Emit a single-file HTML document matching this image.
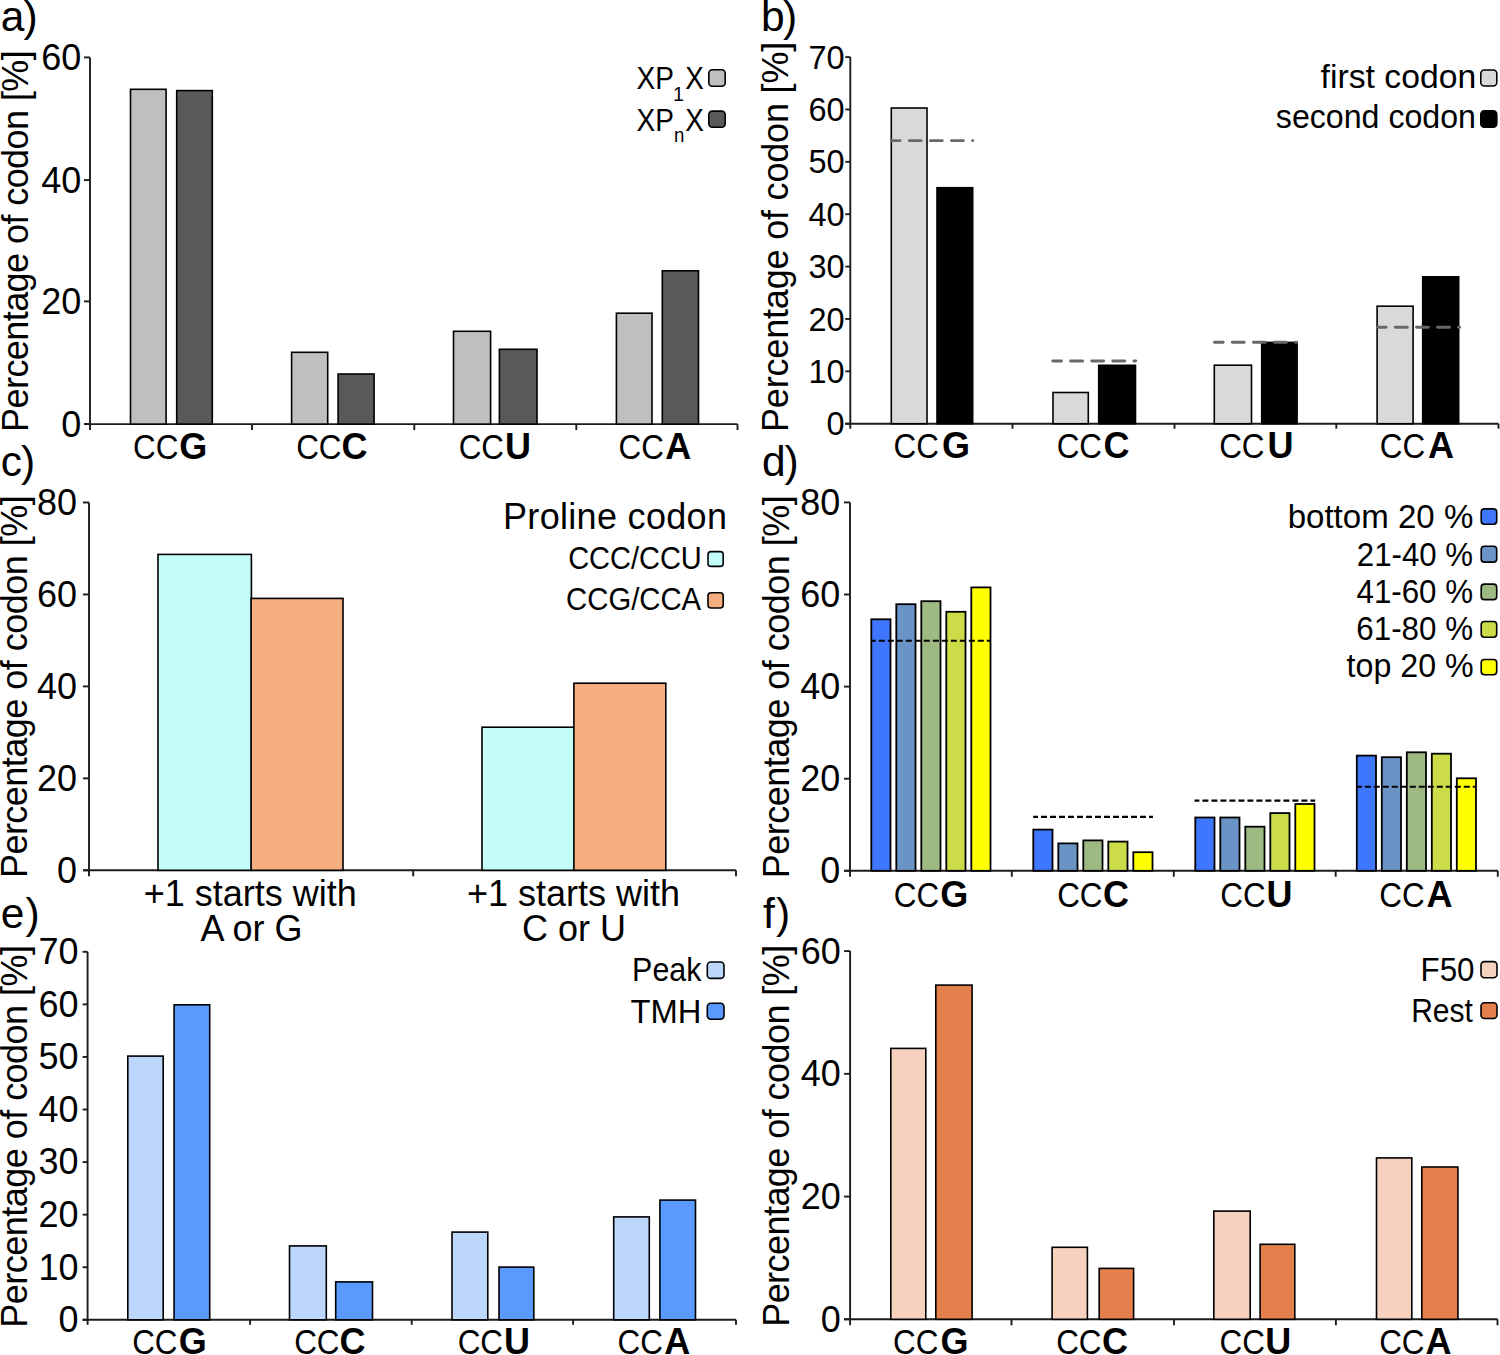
<!DOCTYPE html>
<html><head><meta charset="utf-8"><style>
html,body{margin:0;padding:0;background:#fff;width:1500px;height:1355px;overflow:hidden}
svg{display:block}
text{font-family:"Liberation Sans",sans-serif;fill:#000}
</style></head><body>
<svg width="1500" height="1355" viewBox="0 0 1500 1355">
<rect width="1500" height="1355" fill="#fff"/>
<line x1="90.00" y1="57.40" x2="90.00" y2="430.10" stroke="#1c1c1c" stroke-width="1.9" stroke-linecap="butt"/>
<line x1="84.00" y1="424.10" x2="737.50" y2="424.10" stroke="#1c1c1c" stroke-width="1.9" stroke-linecap="butt"/>
<line x1="84.00" y1="424.10" x2="90.00" y2="424.10" stroke="#1c1c1c" stroke-width="1.9" stroke-linecap="butt"/>
<line x1="84.00" y1="301.40" x2="90.00" y2="301.40" stroke="#1c1c1c" stroke-width="1.9" stroke-linecap="butt"/>
<line x1="84.00" y1="180.10" x2="90.00" y2="180.10" stroke="#1c1c1c" stroke-width="1.9" stroke-linecap="butt"/>
<line x1="84.00" y1="57.40" x2="90.00" y2="57.40" stroke="#1c1c1c" stroke-width="1.9" stroke-linecap="butt"/>
<line x1="252.00" y1="424.10" x2="252.00" y2="430.10" stroke="#1c1c1c" stroke-width="1.9" stroke-linecap="butt"/>
<line x1="414.30" y1="424.10" x2="414.30" y2="430.10" stroke="#1c1c1c" stroke-width="1.9" stroke-linecap="butt"/>
<line x1="576.30" y1="424.10" x2="576.30" y2="430.10" stroke="#1c1c1c" stroke-width="1.9" stroke-linecap="butt"/>
<line x1="737.50" y1="424.10" x2="737.50" y2="430.10" stroke="#1c1c1c" stroke-width="1.9" stroke-linecap="butt"/>
<rect x="130.50" y="89.30" width="35.60" height="334.80" fill="#bfbfbf" stroke="#000" stroke-width="1.6"/>
<rect x="176.70" y="90.60" width="35.60" height="333.50" fill="#595959" stroke="#000" stroke-width="1.6"/>
<rect x="291.60" y="352.30" width="36.10" height="71.80" fill="#bfbfbf" stroke="#000" stroke-width="1.6"/>
<rect x="338.10" y="374.00" width="36.00" height="50.10" fill="#595959" stroke="#000" stroke-width="1.6"/>
<rect x="453.50" y="331.30" width="37.10" height="92.80" fill="#bfbfbf" stroke="#000" stroke-width="1.6"/>
<rect x="499.40" y="349.30" width="37.60" height="74.80" fill="#595959" stroke="#000" stroke-width="1.6"/>
<rect x="616.40" y="313.20" width="35.60" height="110.90" fill="#bfbfbf" stroke="#000" stroke-width="1.6"/>
<rect x="662.30" y="270.80" width="36.20" height="153.30" fill="#595959" stroke="#000" stroke-width="1.6"/>
<rect x="708.80" y="69.80" width="16.40" height="16.40" rx="3.5" fill="#bfbfbf" stroke="#000" stroke-width="1.6"/>
<rect x="708.80" y="111.10" width="16.40" height="16.10" rx="3.5" fill="#595959" stroke="#000" stroke-width="1.6"/>
<line x1="850.30" y1="57.10" x2="850.30" y2="428.70" stroke="#1c1c1c" stroke-width="1.9" stroke-linecap="butt"/>
<line x1="845.30" y1="423.70" x2="1498.50" y2="423.70" stroke="#1c1c1c" stroke-width="1.9" stroke-linecap="butt"/>
<line x1="845.30" y1="423.70" x2="850.30" y2="423.70" stroke="#1c1c1c" stroke-width="1.9" stroke-linecap="butt"/>
<line x1="845.30" y1="371.33" x2="850.30" y2="371.33" stroke="#1c1c1c" stroke-width="1.9" stroke-linecap="butt"/>
<line x1="845.30" y1="318.96" x2="850.30" y2="318.96" stroke="#1c1c1c" stroke-width="1.9" stroke-linecap="butt"/>
<line x1="845.30" y1="266.59" x2="850.30" y2="266.59" stroke="#1c1c1c" stroke-width="1.9" stroke-linecap="butt"/>
<line x1="845.30" y1="214.21" x2="850.30" y2="214.21" stroke="#1c1c1c" stroke-width="1.9" stroke-linecap="butt"/>
<line x1="845.30" y1="161.84" x2="850.30" y2="161.84" stroke="#1c1c1c" stroke-width="1.9" stroke-linecap="butt"/>
<line x1="845.30" y1="109.47" x2="850.30" y2="109.47" stroke="#1c1c1c" stroke-width="1.9" stroke-linecap="butt"/>
<line x1="845.30" y1="57.10" x2="850.30" y2="57.10" stroke="#1c1c1c" stroke-width="1.9" stroke-linecap="butt"/>
<line x1="1012.50" y1="423.70" x2="1012.50" y2="428.70" stroke="#1c1c1c" stroke-width="1.9" stroke-linecap="butt"/>
<line x1="1174.50" y1="423.70" x2="1174.50" y2="428.70" stroke="#1c1c1c" stroke-width="1.9" stroke-linecap="butt"/>
<line x1="1336.30" y1="423.70" x2="1336.30" y2="428.70" stroke="#1c1c1c" stroke-width="1.9" stroke-linecap="butt"/>
<line x1="1498.50" y1="423.70" x2="1498.50" y2="428.70" stroke="#1c1c1c" stroke-width="1.9" stroke-linecap="butt"/>
<rect x="891.30" y="108.00" width="35.70" height="315.70" fill="#d9d9d9" stroke="#000" stroke-width="1.6"/>
<rect x="937.00" y="187.70" width="35.70" height="236.00" fill="#000000" stroke="#000" stroke-width="1.6"/>
<rect x="1053.00" y="392.50" width="35.30" height="31.20" fill="#d9d9d9" stroke="#000" stroke-width="1.6"/>
<rect x="1098.70" y="365.30" width="36.80" height="58.40" fill="#000000" stroke="#000" stroke-width="1.6"/>
<rect x="1214.30" y="365.20" width="37.20" height="58.50" fill="#d9d9d9" stroke="#000" stroke-width="1.6"/>
<rect x="1261.70" y="342.40" width="35.40" height="81.30" fill="#000000" stroke="#000" stroke-width="1.6"/>
<rect x="1377.10" y="306.20" width="36.00" height="117.50" fill="#d9d9d9" stroke="#000" stroke-width="1.6"/>
<rect x="1422.70" y="276.80" width="36.00" height="146.90" fill="#000000" stroke="#000" stroke-width="1.6"/>
<line x1="891.30" y1="140.6" x2="972.80" y2="140.6" stroke="#686868" stroke-width="2.85" stroke-linecap="round" stroke-dasharray="12 9.1" stroke-dashoffset="3.2"/>
<line x1="1052.70" y1="361" x2="1135.70" y2="361" stroke="#686868" stroke-width="2.85" stroke-linecap="round" stroke-dasharray="12 9.1" stroke-dashoffset="3.2"/>
<line x1="1214.40" y1="342.2" x2="1296.60" y2="342.2" stroke="#686868" stroke-width="2.85" stroke-linecap="round" stroke-dasharray="12 9.1" stroke-dashoffset="3.2"/>
<line x1="1377.40" y1="327.2" x2="1459.60" y2="327.2" stroke="#686868" stroke-width="2.85" stroke-linecap="round" stroke-dasharray="12 9.1" stroke-dashoffset="3.2"/>
<rect x="1480.80" y="70.00" width="16.00" height="16.00" rx="3.5" fill="#d9d9d9" stroke="#000" stroke-width="1.6"/>
<rect x="1480.80" y="110.80" width="16.00" height="16.40" rx="3.5" fill="#000000" stroke="#000" stroke-width="1.6"/>
<line x1="89.00" y1="502.50" x2="89.00" y2="876.30" stroke="#1c1c1c" stroke-width="1.9" stroke-linecap="butt"/>
<line x1="83.00" y1="870.30" x2="736.00" y2="870.30" stroke="#1c1c1c" stroke-width="1.9" stroke-linecap="butt"/>
<line x1="83.00" y1="870.30" x2="89.00" y2="870.30" stroke="#1c1c1c" stroke-width="1.9" stroke-linecap="butt"/>
<line x1="83.00" y1="778.35" x2="89.00" y2="778.35" stroke="#1c1c1c" stroke-width="1.9" stroke-linecap="butt"/>
<line x1="83.00" y1="686.40" x2="89.00" y2="686.40" stroke="#1c1c1c" stroke-width="1.9" stroke-linecap="butt"/>
<line x1="83.00" y1="594.45" x2="89.00" y2="594.45" stroke="#1c1c1c" stroke-width="1.9" stroke-linecap="butt"/>
<line x1="83.00" y1="502.50" x2="89.00" y2="502.50" stroke="#1c1c1c" stroke-width="1.9" stroke-linecap="butt"/>
<line x1="413.20" y1="870.30" x2="413.20" y2="876.30" stroke="#1c1c1c" stroke-width="1.9" stroke-linecap="butt"/>
<line x1="736.00" y1="870.30" x2="736.00" y2="876.30" stroke="#1c1c1c" stroke-width="1.9" stroke-linecap="butt"/>
<rect x="158.00" y="554.40" width="93.40" height="315.90" fill="#c4fcf8" stroke="#000" stroke-width="1.6"/>
<rect x="251.10" y="598.40" width="91.90" height="271.90" fill="#f4ae80" stroke="#000" stroke-width="1.6"/>
<rect x="482.00" y="727.20" width="92.60" height="143.10" fill="#c4fcf8" stroke="#000" stroke-width="1.6"/>
<rect x="573.90" y="683.20" width="91.90" height="187.10" fill="#f4ae80" stroke="#000" stroke-width="1.6"/>
<rect x="708.00" y="551.60" width="15.20" height="14.80" rx="3" fill="#c4fcf8" stroke="#000" stroke-width="1.6"/>
<rect x="708.00" y="592.80" width="15.20" height="15.20" rx="3" fill="#f4ae80" stroke="#000" stroke-width="1.6"/>
<line x1="850.00" y1="502.40" x2="850.00" y2="876.80" stroke="#1c1c1c" stroke-width="1.9" stroke-linecap="butt"/>
<line x1="844.00" y1="870.80" x2="1497.80" y2="870.80" stroke="#1c1c1c" stroke-width="1.9" stroke-linecap="butt"/>
<line x1="844.00" y1="870.80" x2="850.00" y2="870.80" stroke="#1c1c1c" stroke-width="1.9" stroke-linecap="butt"/>
<line x1="844.00" y1="778.70" x2="850.00" y2="778.70" stroke="#1c1c1c" stroke-width="1.9" stroke-linecap="butt"/>
<line x1="844.00" y1="686.60" x2="850.00" y2="686.60" stroke="#1c1c1c" stroke-width="1.9" stroke-linecap="butt"/>
<line x1="844.00" y1="594.50" x2="850.00" y2="594.50" stroke="#1c1c1c" stroke-width="1.9" stroke-linecap="butt"/>
<line x1="844.00" y1="502.40" x2="850.00" y2="502.40" stroke="#1c1c1c" stroke-width="1.9" stroke-linecap="butt"/>
<line x1="1011.80" y1="870.80" x2="1011.80" y2="876.80" stroke="#1c1c1c" stroke-width="1.9" stroke-linecap="butt"/>
<line x1="1173.80" y1="870.80" x2="1173.80" y2="876.80" stroke="#1c1c1c" stroke-width="1.9" stroke-linecap="butt"/>
<line x1="1335.70" y1="870.80" x2="1335.70" y2="876.80" stroke="#1c1c1c" stroke-width="1.9" stroke-linecap="butt"/>
<line x1="1497.80" y1="870.80" x2="1497.80" y2="876.80" stroke="#1c1c1c" stroke-width="1.9" stroke-linecap="butt"/>
<rect x="871.30" y="619.30" width="19.20" height="251.50" fill="#3f76fe" stroke="#000" stroke-width="1.8"/>
<rect x="896.30" y="604.20" width="19.20" height="266.60" fill="#6a94c6" stroke="#000" stroke-width="1.8"/>
<rect x="921.30" y="601.20" width="19.20" height="269.60" fill="#9cba82" stroke="#000" stroke-width="1.8"/>
<rect x="946.30" y="611.80" width="19.20" height="259.00" fill="#ccdb48" stroke="#000" stroke-width="1.8"/>
<rect x="971.30" y="587.40" width="19.20" height="283.40" fill="#ffff00" stroke="#000" stroke-width="1.8"/>
<rect x="1033.30" y="829.60" width="19.20" height="41.20" fill="#3f76fe" stroke="#000" stroke-width="1.8"/>
<rect x="1058.30" y="843.40" width="19.20" height="27.40" fill="#6a94c6" stroke="#000" stroke-width="1.8"/>
<rect x="1083.30" y="840.40" width="19.20" height="30.40" fill="#9cba82" stroke="#000" stroke-width="1.8"/>
<rect x="1108.30" y="841.60" width="19.20" height="29.20" fill="#ccdb48" stroke="#000" stroke-width="1.8"/>
<rect x="1133.30" y="852.20" width="19.20" height="18.60" fill="#ffff00" stroke="#000" stroke-width="1.8"/>
<rect x="1195.30" y="817.50" width="19.20" height="53.30" fill="#3f76fe" stroke="#000" stroke-width="1.8"/>
<rect x="1220.30" y="817.50" width="19.20" height="53.30" fill="#6a94c6" stroke="#000" stroke-width="1.8"/>
<rect x="1245.30" y="826.70" width="19.20" height="44.10" fill="#9cba82" stroke="#000" stroke-width="1.8"/>
<rect x="1270.30" y="813.10" width="19.20" height="57.70" fill="#ccdb48" stroke="#000" stroke-width="1.8"/>
<rect x="1295.30" y="804.00" width="19.20" height="66.80" fill="#ffff00" stroke="#000" stroke-width="1.8"/>
<rect x="1356.80" y="755.60" width="19.20" height="115.20" fill="#3f76fe" stroke="#000" stroke-width="1.8"/>
<rect x="1381.80" y="757.20" width="19.20" height="113.60" fill="#6a94c6" stroke="#000" stroke-width="1.8"/>
<rect x="1406.80" y="752.30" width="19.20" height="118.50" fill="#9cba82" stroke="#000" stroke-width="1.8"/>
<rect x="1431.80" y="753.70" width="19.20" height="117.10" fill="#ccdb48" stroke="#000" stroke-width="1.8"/>
<rect x="1456.80" y="778.30" width="19.20" height="92.50" fill="#ffff00" stroke="#000" stroke-width="1.8"/>
<line x1="871.00" y1="640.7" x2="991.00" y2="640.7" stroke="#000" stroke-width="2.1" stroke-dasharray="6 3" stroke-dashoffset="1.2"/>
<line x1="1033.20" y1="816.9" x2="1153.00" y2="816.9" stroke="#000" stroke-width="2.1" stroke-dasharray="6 3" stroke-dashoffset="1.2"/>
<line x1="1194.60" y1="800.6" x2="1315.20" y2="800.6" stroke="#000" stroke-width="2.1" stroke-dasharray="6 3" stroke-dashoffset="1.2"/>
<line x1="1357.00" y1="786.8" x2="1476.00" y2="786.8" stroke="#000" stroke-width="2.1" stroke-dasharray="6 3" stroke-dashoffset="1.2"/>
<rect x="1481.20" y="508.90" width="15.50" height="15.30" rx="3.2" fill="#3f76fe" stroke="#000" stroke-width="1.6"/>
<rect x="1481.20" y="546.30" width="15.50" height="15.80" rx="3.2" fill="#6a94c6" stroke="#000" stroke-width="1.6"/>
<rect x="1481.20" y="584.10" width="15.50" height="15.50" rx="3.2" fill="#9cba82" stroke="#000" stroke-width="1.6"/>
<rect x="1481.20" y="621.50" width="15.50" height="15.70" rx="3.2" fill="#ccdb48" stroke="#000" stroke-width="1.6"/>
<rect x="1481.20" y="659.50" width="15.50" height="15.30" rx="3.2" fill="#ffff00" stroke="#000" stroke-width="1.6"/>
<line x1="87.60" y1="951.80" x2="87.60" y2="1324.80" stroke="#1c1c1c" stroke-width="1.9" stroke-linecap="butt"/>
<line x1="82.60" y1="1319.80" x2="736.00" y2="1319.80" stroke="#1c1c1c" stroke-width="1.9" stroke-linecap="butt"/>
<line x1="82.60" y1="1319.80" x2="87.60" y2="1319.80" stroke="#1c1c1c" stroke-width="1.9" stroke-linecap="butt"/>
<line x1="82.60" y1="1267.23" x2="87.60" y2="1267.23" stroke="#1c1c1c" stroke-width="1.9" stroke-linecap="butt"/>
<line x1="82.60" y1="1214.66" x2="87.60" y2="1214.66" stroke="#1c1c1c" stroke-width="1.9" stroke-linecap="butt"/>
<line x1="82.60" y1="1162.09" x2="87.60" y2="1162.09" stroke="#1c1c1c" stroke-width="1.9" stroke-linecap="butt"/>
<line x1="82.60" y1="1109.51" x2="87.60" y2="1109.51" stroke="#1c1c1c" stroke-width="1.9" stroke-linecap="butt"/>
<line x1="82.60" y1="1056.94" x2="87.60" y2="1056.94" stroke="#1c1c1c" stroke-width="1.9" stroke-linecap="butt"/>
<line x1="82.60" y1="1004.37" x2="87.60" y2="1004.37" stroke="#1c1c1c" stroke-width="1.9" stroke-linecap="butt"/>
<line x1="82.60" y1="951.80" x2="87.60" y2="951.80" stroke="#1c1c1c" stroke-width="1.9" stroke-linecap="butt"/>
<line x1="250.10" y1="1319.80" x2="250.10" y2="1324.80" stroke="#1c1c1c" stroke-width="1.9" stroke-linecap="butt"/>
<line x1="411.70" y1="1319.80" x2="411.70" y2="1324.80" stroke="#1c1c1c" stroke-width="1.9" stroke-linecap="butt"/>
<line x1="573.10" y1="1319.80" x2="573.10" y2="1324.80" stroke="#1c1c1c" stroke-width="1.9" stroke-linecap="butt"/>
<line x1="736.00" y1="1319.80" x2="736.00" y2="1324.80" stroke="#1c1c1c" stroke-width="1.9" stroke-linecap="butt"/>
<rect x="127.80" y="1056.10" width="35.40" height="263.70" fill="#bcd6fc" stroke="#000" stroke-width="1.6"/>
<rect x="174.10" y="1004.80" width="35.60" height="315.00" fill="#5a99fd" stroke="#000" stroke-width="1.6"/>
<rect x="289.50" y="1245.90" width="36.80" height="73.90" fill="#bcd6fc" stroke="#000" stroke-width="1.6"/>
<rect x="335.70" y="1281.90" width="36.80" height="37.90" fill="#5a99fd" stroke="#000" stroke-width="1.6"/>
<rect x="452.00" y="1232.10" width="35.80" height="87.70" fill="#bcd6fc" stroke="#000" stroke-width="1.6"/>
<rect x="499.00" y="1267.10" width="34.80" height="52.70" fill="#5a99fd" stroke="#000" stroke-width="1.6"/>
<rect x="613.70" y="1216.90" width="35.60" height="102.90" fill="#bcd6fc" stroke="#000" stroke-width="1.6"/>
<rect x="659.90" y="1200.10" width="35.60" height="119.70" fill="#5a99fd" stroke="#000" stroke-width="1.6"/>
<rect x="707.30" y="962.00" width="16.70" height="16.40" rx="3.5" fill="#bcd6fc" stroke="#000" stroke-width="1.6"/>
<rect x="707.30" y="1003.30" width="16.70" height="15.90" rx="3.5" fill="#5a99fd" stroke="#000" stroke-width="1.6"/>
<line x1="850.10" y1="951.10" x2="850.10" y2="1325.30" stroke="#1c1c1c" stroke-width="1.9" stroke-linecap="butt"/>
<line x1="844.10" y1="1319.30" x2="1497.50" y2="1319.30" stroke="#1c1c1c" stroke-width="1.9" stroke-linecap="butt"/>
<line x1="844.10" y1="1319.30" x2="850.10" y2="1319.30" stroke="#1c1c1c" stroke-width="1.9" stroke-linecap="butt"/>
<line x1="844.10" y1="1196.57" x2="850.10" y2="1196.57" stroke="#1c1c1c" stroke-width="1.9" stroke-linecap="butt"/>
<line x1="844.10" y1="1073.83" x2="850.10" y2="1073.83" stroke="#1c1c1c" stroke-width="1.9" stroke-linecap="butt"/>
<line x1="844.10" y1="951.10" x2="850.10" y2="951.10" stroke="#1c1c1c" stroke-width="1.9" stroke-linecap="butt"/>
<line x1="1011.50" y1="1319.30" x2="1011.50" y2="1325.30" stroke="#1c1c1c" stroke-width="1.9" stroke-linecap="butt"/>
<line x1="1174.00" y1="1319.30" x2="1174.00" y2="1325.30" stroke="#1c1c1c" stroke-width="1.9" stroke-linecap="butt"/>
<line x1="1335.90" y1="1319.30" x2="1335.90" y2="1325.30" stroke="#1c1c1c" stroke-width="1.9" stroke-linecap="butt"/>
<line x1="1497.50" y1="1319.30" x2="1497.50" y2="1325.30" stroke="#1c1c1c" stroke-width="1.9" stroke-linecap="butt"/>
<rect x="890.80" y="1048.40" width="35.00" height="270.90" fill="#f6d2be" stroke="#000" stroke-width="1.6"/>
<rect x="935.80" y="985.10" width="36.30" height="334.20" fill="#e4804c" stroke="#000" stroke-width="1.6"/>
<rect x="1052.10" y="1247.30" width="35.30" height="72.00" fill="#f6d2be" stroke="#000" stroke-width="1.6"/>
<rect x="1099.20" y="1268.40" width="34.40" height="50.90" fill="#e4804c" stroke="#000" stroke-width="1.6"/>
<rect x="1213.80" y="1211.10" width="36.40" height="108.20" fill="#f6d2be" stroke="#000" stroke-width="1.6"/>
<rect x="1260.10" y="1244.30" width="34.70" height="75.00" fill="#e4804c" stroke="#000" stroke-width="1.6"/>
<rect x="1376.50" y="1157.90" width="35.30" height="161.40" fill="#f6d2be" stroke="#000" stroke-width="1.6"/>
<rect x="1421.80" y="1167.00" width="36.10" height="152.30" fill="#e4804c" stroke="#000" stroke-width="1.6"/>
<rect x="1481.00" y="961.60" width="16.00" height="16.20" rx="3.5" fill="#f6d2be" stroke="#000" stroke-width="1.6"/>
<rect x="1481.00" y="1002.80" width="16.00" height="15.70" rx="3.5" fill="#e4804c" stroke="#000" stroke-width="1.6"/>
<text x="61.30" y="436.90" font-size="36">0</text>
<text x="41.30" y="314.20" font-size="36">20</text>
<text x="41.30" y="192.90" font-size="36">40</text>
<text x="41.30" y="70.20" font-size="36">60</text>
<text transform="translate(132.97,458.50) scale(0.9130,1)" font-size="34.4">CC</text>
<text x="179.20" y="458.50" font-size="36" font-weight="700">G</text>
<text transform="translate(296.17,458.50) scale(0.9130,1)" font-size="34.4">CC</text>
<text x="341.50" y="458.50" font-size="36" font-weight="700">C</text>
<text transform="translate(458.67,458.50) scale(0.9130,1)" font-size="34.4">CC</text>
<text x="505.00" y="458.50" font-size="36" font-weight="700">U</text>
<text transform="translate(618.57,458.50) scale(0.9130,1)" font-size="34.4">CC</text>
<text x="665.20" y="458.50" font-size="36" font-weight="700">A</text>
<text transform="translate(27.90,431.90) rotate(-90)" font-size="36" letter-spacing="-0.573">Percentage of codon [%]</text>
<text x="0.80" y="31.40" font-size="42.5">a</text>
<text x="23.40" y="31.40" font-size="42.5">)</text>
<text transform="translate(636.62,89.20) scale(0.8750,1)" font-size="32">XP</text>
<text transform="translate(673.11,101.00) scale(0.9444,1)" font-size="21">1</text>
<text transform="translate(685.13,89.20) scale(0.8684,1)" font-size="32">X</text>
<text transform="translate(636.62,130.50) scale(0.8750,1)" font-size="32">XP</text>
<text transform="translate(674.11,142.20) scale(0.8889,1)" font-size="21">n</text>
<text transform="translate(685.13,130.50) scale(0.8684,1)" font-size="32">X</text>
<text x="826.40" y="435.30" font-size="32.5">0</text>
<text x="808.40" y="382.93" font-size="32.5">10</text>
<text x="808.40" y="330.56" font-size="32.5">20</text>
<text x="808.40" y="278.19" font-size="32.5">30</text>
<text x="808.40" y="225.81" font-size="32.5">40</text>
<text x="808.40" y="173.44" font-size="32.5">50</text>
<text x="808.40" y="121.07" font-size="32.5">60</text>
<text x="808.40" y="68.70" font-size="32.5">70</text>
<text transform="translate(893.57,458.20) scale(0.9130,1)" font-size="34.4">CC</text>
<text x="942.10" y="458.20" font-size="36" font-weight="700">G</text>
<text transform="translate(1056.67,458.20) scale(0.9130,1)" font-size="34.4">CC</text>
<text x="1103.60" y="458.20" font-size="36" font-weight="700">C</text>
<text transform="translate(1219.17,458.20) scale(0.9130,1)" font-size="34.4">CC</text>
<text x="1267.60" y="458.20" font-size="36" font-weight="700">U</text>
<text transform="translate(1379.77,458.20) scale(0.9130,1)" font-size="34.4">CC</text>
<text x="1428.00" y="458.20" font-size="36" font-weight="700">A</text>
<text transform="translate(787.80,432.00) rotate(-90)" font-size="36" letter-spacing="-0.182">Percentage of codon [%]</text>
<text x="761.00" y="31.20" font-size="42.5">b</text>
<text x="783.00" y="31.20" font-size="42.5">)</text>
<text transform="translate(1320.61,88.40) scale(0.9922,1)" font-size="34">first codon</text>
<text transform="translate(1275.85,127.60) scale(0.9455,1)" font-size="34">second codon</text>
<text x="57.00" y="882.90" font-size="36">0</text>
<text x="37.00" y="790.95" font-size="36">20</text>
<text x="37.00" y="699.00" font-size="36">40</text>
<text x="37.00" y="607.05" font-size="36">60</text>
<text x="37.00" y="515.10" font-size="36">80</text>
<text x="143.75" y="905.60" font-size="36">+1 starts with</text>
<text x="200.55" y="941.30" font-size="36">A or G</text>
<text x="466.90" y="905.60" font-size="36">+1 starts with</text>
<text x="522.10" y="941.30" font-size="36">C or U</text>
<text transform="translate(26.60,878.10) rotate(-90)" font-size="36" letter-spacing="-0.523">Percentage of codon [%]</text>
<text x="0.80" y="476.20" font-size="42.5">c</text>
<text x="21.10" y="476.20" font-size="42.5">)</text>
<text x="503.00" y="528.80" font-size="36" letter-spacing="0.317">Proline codon</text>
<text transform="translate(568.13,568.80) scale(0.9353,1)" font-size="31">CCC/CCU</text>
<text transform="translate(566.11,610.00) scale(0.9447,1)" font-size="31">CCG/CCA</text>
<text x="820.20" y="883.40" font-size="36">0</text>
<text x="800.20" y="791.30" font-size="36">20</text>
<text x="800.20" y="699.20" font-size="36">40</text>
<text x="800.20" y="607.10" font-size="36">60</text>
<text x="800.20" y="515.00" font-size="36">80</text>
<text transform="translate(893.87,907.20) scale(0.9130,1)" font-size="34.4">CC</text>
<text x="940.30" y="907.20" font-size="36" font-weight="700">G</text>
<text transform="translate(1057.17,907.20) scale(0.9130,1)" font-size="34.4">CC</text>
<text x="1103.00" y="907.20" font-size="36" font-weight="700">C</text>
<text transform="translate(1220.27,907.20) scale(0.9130,1)" font-size="34.4">CC</text>
<text x="1266.60" y="907.20" font-size="36" font-weight="700">U</text>
<text transform="translate(1379.37,907.20) scale(0.9130,1)" font-size="34.4">CC</text>
<text x="1426.60" y="907.20" font-size="36" font-weight="700">A</text>
<text transform="translate(788.60,878.30) rotate(-90)" font-size="36" letter-spacing="-0.514">Percentage of codon [%]</text>
<text x="762.00" y="475.90" font-size="42.5">d</text>
<text x="784.60" y="475.90" font-size="42.5">)</text>
<text transform="translate(1287.65,527.60) scale(0.9729,1)" font-size="34">bottom 20 %</text>
<text transform="translate(1356.86,565.50) scale(0.9177,1)" font-size="34">21-40 %</text>
<text transform="translate(1356.48,603.20) scale(0.9208,1)" font-size="34">41-60 %</text>
<text transform="translate(1356.36,640.00) scale(0.9218,1)" font-size="34">61-80 %</text>
<text transform="translate(1346.55,677.40) scale(0.9470,1)" font-size="34">top 20 %</text>
<text x="58.40" y="1332.20" font-size="36">0</text>
<text x="38.40" y="1279.63" font-size="36">10</text>
<text x="38.40" y="1227.06" font-size="36">20</text>
<text x="38.40" y="1174.49" font-size="36">30</text>
<text x="38.40" y="1121.91" font-size="36">40</text>
<text x="38.40" y="1069.34" font-size="36">50</text>
<text x="38.40" y="1016.77" font-size="36">60</text>
<text x="38.40" y="964.20" font-size="36">70</text>
<text transform="translate(132.17,1353.80) scale(0.9130,1)" font-size="34.4">CC</text>
<text x="178.80" y="1353.80" font-size="36" font-weight="700">G</text>
<text transform="translate(294.17,1353.80) scale(0.9130,1)" font-size="34.4">CC</text>
<text x="339.50" y="1353.80" font-size="36" font-weight="700">C</text>
<text transform="translate(457.67,1353.80) scale(0.9130,1)" font-size="34.4">CC</text>
<text x="503.90" y="1353.80" font-size="36" font-weight="700">U</text>
<text transform="translate(617.47,1353.80) scale(0.9130,1)" font-size="34.4">CC</text>
<text x="664.30" y="1353.80" font-size="36" font-weight="700">A</text>
<text transform="translate(26.70,1327.70) rotate(-90)" font-size="36" letter-spacing="-0.523">Percentage of codon [%]</text>
<text x="0.80" y="928.20" font-size="42.5">e</text>
<text x="25.40" y="928.20" font-size="42.5">)</text>
<text transform="translate(632.12,981.00) scale(0.8946,1)" font-size="34">Peak</text>
<text transform="translate(630.54,1022.50) scale(0.9643,1)" font-size="34">TMH</text>
<text x="820.80" y="1331.90" font-size="36">0</text>
<text x="800.80" y="1209.17" font-size="36">20</text>
<text x="800.80" y="1086.43" font-size="36">40</text>
<text x="800.80" y="963.70" font-size="36">60</text>
<text transform="translate(893.07,1353.80) scale(0.9130,1)" font-size="34.4">CC</text>
<text x="940.60" y="1353.80" font-size="36" font-weight="700">G</text>
<text transform="translate(1056.17,1353.80) scale(0.9130,1)" font-size="34.4">CC</text>
<text x="1102.00" y="1353.80" font-size="36" font-weight="700">C</text>
<text transform="translate(1219.47,1353.80) scale(0.9130,1)" font-size="34.4">CC</text>
<text x="1265.20" y="1353.80" font-size="36" font-weight="700">U</text>
<text transform="translate(1379.17,1353.80) scale(0.9130,1)" font-size="34.4">CC</text>
<text x="1425.60" y="1353.80" font-size="36" font-weight="700">A</text>
<text transform="translate(789.30,1326.80) rotate(-90)" font-size="36" letter-spacing="-0.555">Percentage of codon [%]</text>
<text x="763.00" y="928.00" font-size="42.5">f</text>
<text x="776.00" y="928.00" font-size="42.5">)</text>
<text transform="translate(1420.53,980.70) scale(0.9222,1)" font-size="34">F50</text>
<text transform="translate(1411.15,1021.90) scale(0.8836,1)" font-size="34">Rest</text>
</svg></body></html>
